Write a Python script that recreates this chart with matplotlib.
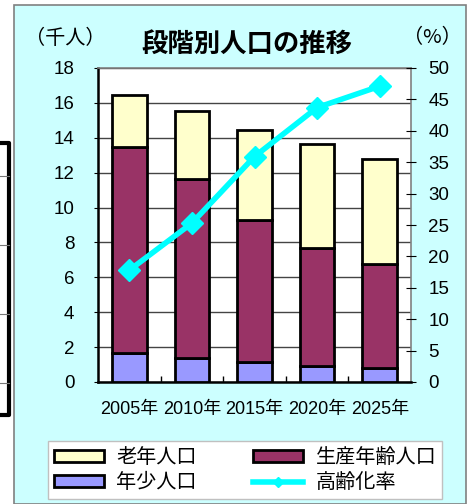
import numpy as np
import matplotlib
matplotlib.use("Agg")
import matplotlib.pyplot as plt
from matplotlib.patches import Rectangle, Patch
from matplotlib.lines import Line2D

plt.rcParams["font.family"] = ["Liberation Sans", "Noto Sans CJK JP"]

# データ（千人, %）
years = ["2005年", "2010年", "2015年", "2020年", "2025年"]
youth = [1.68, 1.40, 1.17, 0.94, 0.82]          # 年少人口
working = [11.81, 10.22, 8.12, 6.76, 5.93]      # 生産年齢人口
elderly = [2.97, 3.94, 5.16, 5.93, 6.02]        # 老年人口
aging_rate = [17.8, 25.3, 35.9, 43.7, 47.1]     # 高齢化率

W, H = 469, 504
fig = plt.figure(figsize=(W / 100, H / 100), dpi=100)

# 背景（水色の枠）
fig.patches.append(Rectangle((14 / W, 0), 452 / W, 1 - 5 / H, transform=fig.transFigure,
                             facecolor="#CCFFFF", edgecolor="#808080", lw=1.2, zorder=-10))
# 左端の表の切れ端
fig.add_artist(Line2D([0, 9 / W, 9 / W, 0], [1 - 143 / H, 1 - 143 / H, 1 - 415 / H, 1 - 415 / H],
                      transform=fig.transFigure, color="black", lw=3))
for yy in [176, 245, 314, 383]:
    fig.add_artist(Line2D([0, 9 / W], [1 - yy / H, 1 - yy / H], transform=fig.transFigure,
                          color="#777777", lw=0.8))

ax = fig.add_axes([98 / W, 122 / H, 313 / W, 314 / H])
ax.set_facecolor("white")
x = np.arange(len(years))
bw = 0.55
bottom2 = np.array(youth) + np.array(working)
ax.bar(x, youth, bw, color="#9999FF", edgecolor="black", lw=2, zorder=3)
ax.bar(x, working, bw, bottom=youth, color="#993366", edgecolor="black", lw=2, zorder=3)
ax.bar(x, elderly, bw, bottom=bottom2, color="#FFFFCC", edgecolor="black", lw=2, zorder=3)

ax.set_xlim(-0.5, 4.5)
ax.set_ylim(0, 18)
ax.set_yticks(range(0, 19, 2))
ax.yaxis.grid(True, color="#444444", lw=1)
ax.set_axisbelow(True)
ax.set_xticks(x)
ax.set_xticklabels(years, fontsize=13)
ax.set_xticks(np.arange(0.5, 4.5, 1), minor=True)
ax.tick_params(axis="x", which="major", length=0, pad=14)
ax.tick_params(axis="x", which="minor", direction="in", length=4, width=1, color="black")
ax.tick_params(axis="y", labelsize=13.5, length=3, pad=14)
for s in ["left", "bottom"]:
    ax.spines[s].set_color("black")
    ax.spines[s].set_linewidth(1.8)
for s in ["top", "right"]:
    ax.spines[s].set_color("#808080")
    ax.spines[s].set_linewidth(1.2)

ax2 = ax.twinx()
ax2.plot(x, aging_rate, color="#00FFFF", lw=4, marker="D", markersize=11, zorder=5)
ax2.set_ylim(0, 50)
ax2.set_yticks(range(0, 51, 5))
ax2.tick_params(axis="y", labelsize=13.5, direction="inout", length=7, pad=9)
for s in ax2.spines.values():
    s.set_visible(False)

fig.text(65 / W, 1 - 38 / H, "（千人）", fontsize=14.5, ha="center", va="center",
         family=["Noto Sans CJK JP"])
fig.text(432 / W, 1 - 38 / H, "（%）", fontsize=14.5, ha="center", va="center",
         family=["Noto Sans CJK JP"])
fig.text(247 / W, 1 - 44 / H, "段階別人口の推移", fontsize=19, fontweight="bold",
         ha="center", va="center", family=["Noto Sans CJK JP"])

handles = [
    Patch(facecolor="#FFFFCC", edgecolor="black", lw=2),
    Patch(facecolor="#9999FF", edgecolor="black", lw=2),
    Patch(facecolor="#993366", edgecolor="black", lw=2),
    Line2D([0], [0], color="#00FFFF", lw=4, marker="D", markersize=5),
]
labels = ["老年人口", "年少人口", "生産年齢人口", "高齢化率"]
leg = fig.legend(handles, labels, ncol=2, loc="center", bbox_to_anchor=(245 / W, 1 - 470 / H),
                 prop={"family": ["Noto Sans CJK JP"], "size": 14.5},
                 frameon=True, fancybox=False, edgecolor="#C0C0C0", framealpha=1,
                 handlelength=2.5, handleheight=0.5, columnspacing=2.8, handletextpad=0.6,
                 labelspacing=0.2, borderpad=0.3)
leg.get_frame().set_linewidth(1)

fig.savefig("out.png", dpi=100)
